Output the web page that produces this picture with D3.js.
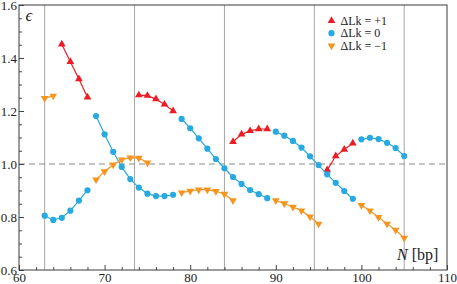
<!DOCTYPE html>
<meta charset="utf-8">
<style>
    body { margin: 0; background: #fff; }
    .tick line { stroke: #444; }
</style>
<body>
<script src="https://d3js.org/d3.v7.min.js"></script>
<script>
    // values, one inner array per connected run
    const nPlus = [[65, 66, 67, 68], [74, 75, 76, 77, 78], [85, 86, 87, 88, 89], [96, 97, 98, 99]];
    const ePlus = [[1.452, 1.386, 1.321, 1.252], [1.260, 1.258, 1.245, 1.225, 1.200],
                   [1.084, 1.112, 1.125, 1.132, 1.132], [0.977, 1.030, 1.055, 1.078]];

    const nZero = [[63, 64, 65, 66, 67, 68], [69, 70, 71, 72, 73, 74, 75, 76, 77, 78],
                   [79, 80, 81, 82, 83, 84, 85, 86, 87, 88, 89], [90, 91, 92, 93, 94, 95, 96, 97, 98, 99],
                   [100, 101, 102, 103, 104, 105]];
    const eZero = [[0.805, 0.789, 0.797, 0.824, 0.862, 0.901],
                   [1.181, 1.112, 1.046, 0.989, 0.943, 0.911, 0.888, 0.879, 0.879, 0.884],
                   [1.170, 1.135, 1.097, 1.058, 1.019, 0.984, 0.951, 0.925, 0.902, 0.886, 0.871],
                   [1.122, 1.107, 1.087, 1.062, 1.029, 0.996, 0.961, 0.929, 0.898, 0.869],
                   [1.093, 1.099, 1.094, 1.080, 1.060, 1.030]];

    const nMinus = [[63, 64], [69, 70, 71, 72, 73, 74, 75], [79, 80, 81, 82, 83, 84, 85],
                    [90, 91, 92, 93, 94, 95], [100, 101, 102, 103, 104, 105]];
    const eMinus = [[1.248, 1.257], [0.941, 0.972, 0.997, 1.016, 1.024, 1.023, 1.005],
                    [0.892, 0.898, 0.903, 0.903, 0.897, 0.887, 0.862],
                    [0.862, 0.851, 0.838, 0.824, 0.801, 0.774],
                    [0.844, 0.824, 0.799, 0.774, 0.751, 0.721]];

    const helicalLines = [63, 73.5, 84, 94.5, 105];
    const xTicks = [60, 70, 80, 90, 100, 110];
    const yTicks = [0.6, 0.8, 1.0, 1.2, 1.4, 1.6];
    const legendLabels = ["\u0394Lk = +1", "\u0394Lk = 0", "\u0394Lk = \u22121"];

    const W = 457, H = 284;
    const margin = {top: 5, right: 10, bottom: 14, left: 19};
    const serif = "'Liberation Serif', serif";

    let x = d3.scaleLinear().domain([60, 110]).range([margin.left, W - margin.right]);
    let y = d3.scaleLinear().domain([0.6, 1.6]).range([H - margin.bottom, margin.top]);

    let svg = d3.select("body").append("svg")
        .attr("width", W)
        .attr("height", H);

    // thin grey verticals every helical repeat
    svg.selectAll(".vline")
        .data(helicalLines)
      .enter().append("line")
        .attr("x1", d => x(d)).attr("x2", d => x(d))
        .attr("y1", y(1.6)).attr("y2", y(0.6))
        .attr("stroke", "#a6a6a6")
        .attr("stroke-width", 1);

    // reference line at 1
    svg.append("line")
        .attr("x1", x(60)).attr("x2", x(110))
        .attr("y1", y(1)).attr("y2", y(1))
        .attr("stroke", "#8c8c8c")
        .attr("stroke-width", 1.2)
        .attr("stroke-dasharray", "6,4");

    // axes, ticks pointing into the plot
    let xMinor = d3.range(62, 110, 2).filter(d => d % 10 != 0);
    let yMinor = d3.range(0.65, 1.6, 0.05).filter(d => Math.abs(d * 5 - Math.round(d * 5)) > 1e-6);

    svg.append("g")
        .attr("transform", "translate(0," + y(0.6) + ")")
        .call(d3.axisBottom(x).tickValues(xTicks).tickSize(-5).tickPadding(3));
    svg.append("g")
        .attr("transform", "translate(0," + y(0.6) + ")")
        .call(d3.axisBottom(x).tickValues(xMinor).tickSize(-3).tickFormat(""));

    svg.append("g")
        .attr("transform", "translate(" + x(60) + ",0)")
        .call(d3.axisLeft(y).tickValues(yTicks).tickSize(-5).tickPadding(2).tickFormat(d3.format(".1f")));
    svg.append("g")
        .attr("transform", "translate(" + x(60) + ",0)")
        .call(d3.axisLeft(y).tickValues(yMinor).tickSize(-3).tickFormat(""));

    svg.selectAll(".domain").remove();
    svg.selectAll(".tick text").style("font-size", "13px").attr("fill", "#222");

    // frame
    svg.append("rect")
        .attr("x", x(60)).attr("y", y(1.6))
        .attr("width", x(110) - x(60)).attr("height", y(0.6) - y(1.6))
        .attr("fill", "none")
        .attr("stroke", "#3a3a3a")
        .attr("stroke-width", 1);

    const series = [
        {n: nPlus, e: ePlus, color: "#ed1c24", shape: "up"},
        {n: nZero, e: eZero, color: "#27aae1", shape: "circle"},
        {n: nMinus, e: eMinus, color: "#f7941d", shape: "down"}
    ];

    let line = d3.line().x(d => x(d[0])).y(d => y(d[1]));
    let tri = d3.symbol().type(d3.symbolTriangle).size(26)();
    let dot = d3.symbol().type(d3.symbolCircle).size(30)();

    series.forEach(s => {
        s.n.forEach((ns, i) => {
            let pts = ns.map((n, j) => [n, s.e[i][j]]);
            svg.append("path")
                .attr("d", line(pts))
                .attr("fill", "none")
                .attr("stroke", s.color)
                .attr("stroke-width", 1.2);
            svg.selectAll(null)
                .data(pts)
              .enter().append("path")
                .attr("d", s.shape == "circle" ? dot : tri)
                .attr("fill", s.color)
                .attr("transform", d => "translate(" + x(d[0]) + "," + y(d[1]) + ")" +
                    (s.shape == "down" ? " rotate(180)" : ""));
        });
    });

    // legend
    let legend = svg.append("g");
    series.forEach((s, i) => {
        let ly = 20.7 + i * 12.5;
        legend.append("path")
            .attr("d", s.shape == "circle" ? dot : tri)
            .attr("fill", s.color)
            .attr("transform", "translate(331.5," + ly + ")" + (s.shape == "down" ? " rotate(180)" : ""));
        legend.append("text")
            .attr("x", 340.5)
            .attr("y", ly + 4)
            .attr("fill", "#222")
            .style("font-size", "12px")
            .text(legendLabels[i]);
    });

    // axis names inside the frame
    svg.append("text")
        .attr("x", 25.5)
        .attr("y", 21)
        .attr("fill", "#222")
        .style("font-size", "17px")
        .style("font-style", "italic")
        .text("\u03f5");

    let nl = svg.append("text")
        .attr("x", 397)
        .attr("y", 260)
        .attr("fill", "#222")
        .style("font-size", "16px");
    nl.append("tspan").style("font-style", "italic").text("N");
    nl.append("tspan").text(" [bp]");

    // every label in the serif face
    svg.selectAll("text").style("font-family", serif);
</script>
</body>
